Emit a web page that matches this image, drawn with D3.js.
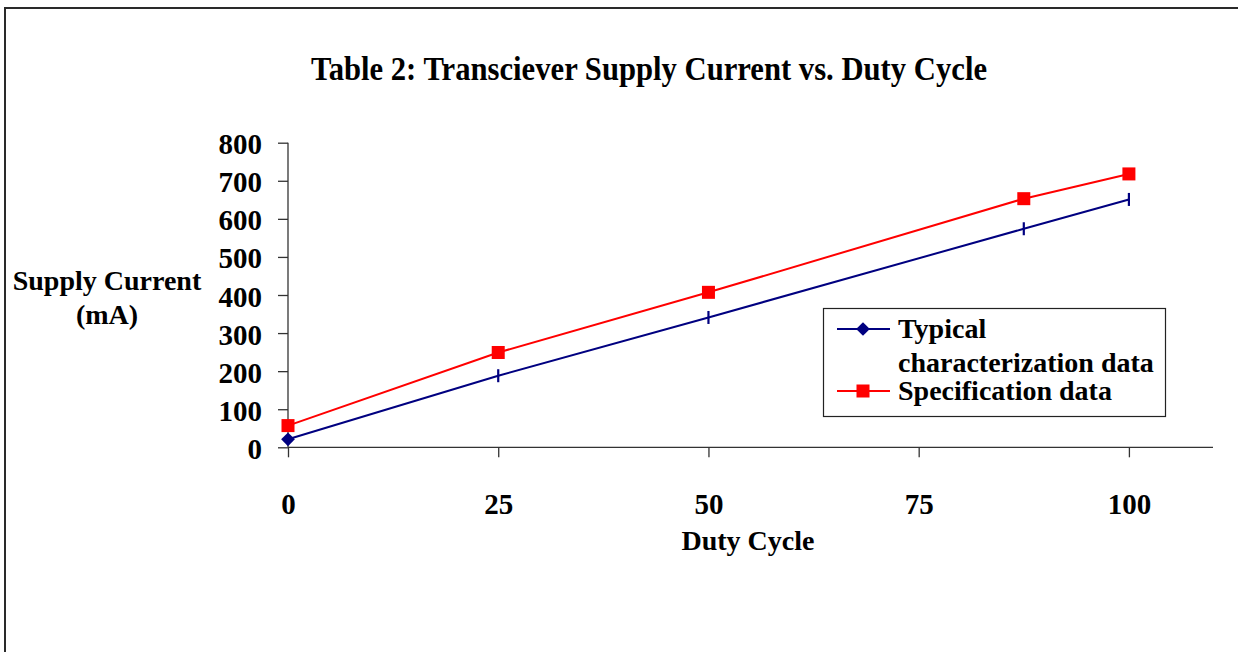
<!DOCTYPE html>
<html>
<head>
<meta charset="utf-8">
<script src="https://cdn.jsdelivr.net/npm/d3@7"></script>
<style>
  body { margin: 0; background: #fff; }
  text { font-family: "Liberation Serif", "Times New Roman", serif; font-weight: bold; fill: #000; }
</style>
</head>
<body>
<script>
// chart data
var dutyCycle = [0, 25, 50, 87.5, 100];
var typicalData = [21, 188, 341, 574, 651];
var specData = [57, 249, 407, 653, 718];
var xTicks = [0, 25, 50, 75, 100];
var yTicks = [0, 100, 200, 300, 400, 500, 600, 700, 800];
var seriesNames = ["Typical", "Specification data"];

var dim = {
    width: 1238, height: 652,
    plot: { left: 288, right: 1213, top: 142.7, bottom: 447.3 }
};

var x = d3.scaleLinear().domain([0, 110]).range([dim.plot.left, dim.plot.right]);
var y = d3.scaleLinear().domain([0, 800]).range([dim.plot.bottom, dim.plot.top]);

var svg = d3.select("body").append("svg")
        .attr("width", dim.width)
        .attr("height", dim.height);

// outer frame (runs off the right and bottom edges)
svg.append("rect")
        .attr("x", 5).attr("y", 8)
        .attr("width", 1260).attr("height", 700)
        .attr("fill", "none")
        .attr("stroke", "#2a2a2a")
        .attr("stroke-width", 2);

svg.append("text")
        .attr("x", 311).attr("y", 80)
        .attr("font-size", 33)
        .attr("textLength", 676)
        .attr("lengthAdjust", "spacingAndGlyphs")
        .text("Table 2: Transciever Supply Current vs. Duty Cycle");

// axes
var xAxis = d3.axisBottom(x).tickValues(xTicks).tickSize(10).tickPadding(36);
var yAxis = d3.axisLeft(y).tickValues(yTicks).tickSize(10).tickPadding(16);

var gx = svg.append("g")
        .attr("transform", "translate(0," + y(0) + ")")
        .call(xAxis);
var gy = svg.append("g")
        .attr("transform", "translate(" + x(0) + ",0)")
        .call(yAxis);

[gx, gy].forEach(function(g) {
    g.select(".domain").attr("stroke", "#333").attr("stroke-width", 1.3);
    g.selectAll(".tick line").attr("stroke", "#333").attr("stroke-width", 1.3);
    g.selectAll(".tick text")
        .attr("font-family", "Liberation Serif, Times New Roman, serif")
        .attr("font-weight", "bold")
        .attr("font-size", 29)
        .attr("fill", "#000");
});
gx.select(".domain").attr("d", "M" + x(0) + ",0H" + x(110));
gy.select(".domain").attr("d", "M0," + y(800) + "V" + y(0));
gy.selectAll(".tick text").attr("dy", "0.38em");

svg.append("text")
        .attr("x", 107).attr("y", 290)
        .attr("font-size", 28)
        .attr("text-anchor", "middle")
        .text("Supply Current");
svg.append("text")
        .attr("x", 107).attr("y", 324)
        .attr("font-size", 28)
        .attr("text-anchor", "middle")
        .text("(mA)");
svg.append("text")
        .attr("x", 748).attr("y", 550)
        .attr("font-size", 28)
        .attr("text-anchor", "middle")
        .text("Duty Cycle");

// series
var line = d3.line()
        .x(function(d) { return x(d[0]); })
        .y(function(d) { return y(d[1]); });

var typical = d3.zip(dutyCycle, typicalData);
var spec = d3.zip(dutyCycle, specData);

svg.append("path").datum(spec)
        .attr("d", line)
        .attr("fill", "none")
        .attr("stroke", "#ff0000")
        .attr("stroke-width", 2);

svg.append("path").datum(typical)
        .attr("d", line)
        .attr("fill", "none")
        .attr("stroke", "#000080")
        .attr("stroke-width", 2);

var diamond = d3.symbol().type(d3.symbolDiamond2).size(120);

svg.selectAll(".typ").data(typical).enter()
        .each(function(d, i) {
            var s = d3.select(this);
            if (i === 0) {
                s.append("path")
                    .attr("d", diamond)
                    .attr("transform", "translate(" + x(d[0]) + "," + y(d[1]) + ")")
                    .attr("fill", "#000080");
            } else {
                s.append("line")
                    .attr("x1", x(d[0])).attr("x2", x(d[0]))
                    .attr("y1", y(d[1]) - 6.5).attr("y2", y(d[1]) + 6.5)
                    .attr("stroke", "#000080")
                    .attr("stroke-width", 2.2);
            }
        });

svg.selectAll(".spec").data(spec).enter()
        .append("rect")
        .attr("x", function(d) { return x(d[0]) - 6.5; })
        .attr("y", function(d) { return y(d[1]) - 6.5; })
        .attr("width", 13).attr("height", 13)
        .attr("fill", "#ff0000");

// legend
var legend = svg.append("g");
legend.append("rect")
        .attr("x", 823.5).attr("y", 308.5)
        .attr("width", 342).attr("height", 108)
        .attr("fill", "#fff")
        .attr("stroke", "#222")
        .attr("stroke-width", 1.2);

legend.append("line")
        .attr("x1", 837).attr("x2", 890).attr("y1", 329).attr("y2", 329)
        .attr("stroke", "#000080").attr("stroke-width", 2);
legend.append("path")
        .attr("d", diamond)
        .attr("transform", "translate(863,329)")
        .attr("fill", "#000080");
legend.append("text")
        .attr("x", 898).attr("y", 338)
        .attr("font-size", 28)
        .text(seriesNames[0]);
legend.append("text")
        .attr("x", 898).attr("y", 372)
        .attr("font-size", 28)
        .text("characterization data");

legend.append("line")
        .attr("x1", 837).attr("x2", 890).attr("y1", 391).attr("y2", 391)
        .attr("stroke", "#ff0000").attr("stroke-width", 2);
legend.append("rect")
        .attr("x", 856.5).attr("y", 384.5)
        .attr("width", 13).attr("height", 13)
        .attr("fill", "#ff0000");
legend.append("text")
        .attr("x", 898).attr("y", 400)
        .attr("font-size", 28)
        .text(seriesNames[1]);
</script>
</body>
</html>
